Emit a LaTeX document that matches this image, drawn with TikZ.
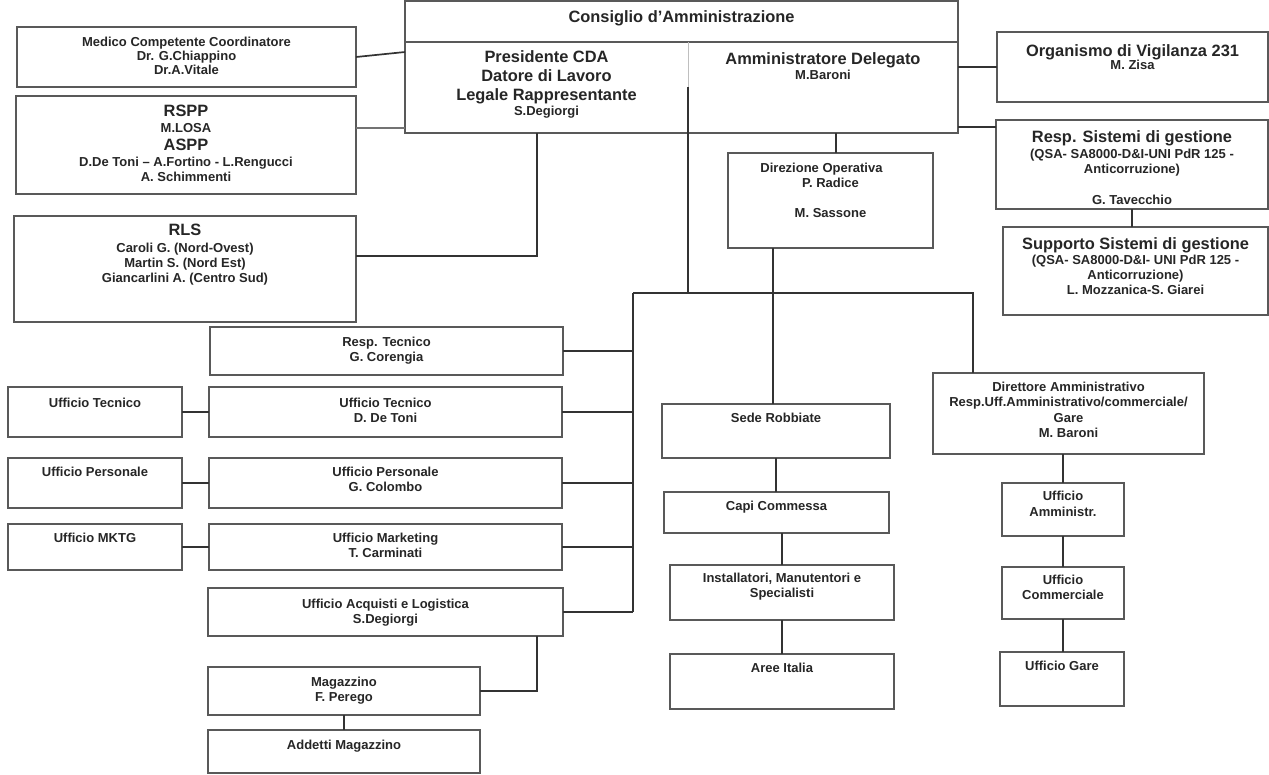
\documentclass[tikz,border=0pt]{standalone}
\usepackage{fontspec}
\setmainfont{Liberation Sans}
\newcommand{\bx}[4]{\parbox[c][#2pt][t]{#1pt}{\centering\vspace*{#3pt}#4}}
\newcommand{\bigL}[2]{{\fontsize{16.4}{#1}\selectfont\bfseries #2\par}}
\newcommand{\smL}[2]{{\fontsize{13}{#1}\selectfont\bfseries #2\par}}
\tikzset{
  ob/.style={draw=black!65, line width=1.3pt, inner sep=0pt, outer sep=0pt, anchor=north west},
  nb/.style={inner sep=0pt, outer sep=0pt, anchor=north west},
  cn/.style={draw=black!80, line width=1.7pt},
  obline/.style={draw=black!65, line width=1.3pt},
}
\begin{document}
\begin{tikzpicture}[x=1pt,y=-1pt, every node/.style={text=black!85}]
\useasboundingbox[fill=white] (0,0) rectangle (1269,774);

% --- top centre
\node[ob] (cda) at (405,1) {\bx{553}{41}{9.2}{\bigL{17}{Consiglio d’Amministrazione}}};
\node[nb] (pres) at (405,42) {\bx{283}{91}{8.2}{\bigL{19}{Presidente CDA}\bigL{19}{Datore di Lavoro}\bigL{19}{Legale Rappresentante}\smL{15.6}{S.Degiorgi}}};
\node[nb] (ad) at (688,42) {\bx{270}{91}{10.2}{\bigL{19}{Amministratore Delegato}\smL{15.6}{M.Baroni}}};
\draw[obline] (pres.north west) rectangle (ad.south east);
\draw[black!25, line width=1pt] (pres.north east) -- (pres.south east);

% --- left top
\node[ob] (medico) at (17,27) {\bx{339}{60}{10}{\smL{14}{Medico Competente Coordinatore}\smL{14}{Dr. G.Chiappino}\smL{14.5}{Dr.A.Vitale}}};
\node[ob] (rspp) at (16,96) {\bx{340}{98}{9.2}{\bigL{19}{RSPP}\smL{15.6}{M.LOSA}\bigL{18.4}{ASPP}\smL{15.6}{D.De Toni – A.Fortino - L.Rengucci}\smL{15}{A. Schimmenti}}};
\node[ob] (rls) at (14,216) {\bx{342}{106}{8.2}{\bigL{19}{RLS}\smL{16.6}{Caroli G. (Nord-Ovest)}\smL{15}{Martin S. (Nord Est)}\smL{15}{Giancarlini A. (Centro Sud)}}};

% --- right top
\node[ob] (odv) at (997,32) {\bx{271}{70}{12.2}{\bigL{19}{Organismo di Vigilanza 231}\smL{13.6}{M. Zisa}}};
\node[ob] (rsg) at (996,120) {\bx{272}{89}{10.2}{\bigL{19}{Resp. Sistemi di gestione}\smL{16.6}{(QSA- SA8000-D\&I-UNI PdR 125 -}\smL{15}{Anticorruzione)}\smL{31}{G. Tavecchio}}};
\node[ob] (sup) at (1003,227) {\bx{265}{88}{10.2}{\bigL{19}{Supporto Sistemi di gestione}\smL{15.6}{(QSA- SA8000-D\&I- UNI PdR 125 -}\smL{15}{Anticorruzione)}\smL{15}{L. Mozzanica-S. Giarei}}};

% --- direzione operativa
\node[ob] (dirop) at (728,153) {\bx{205}{95}{10}{\smL{15}{Direzione Operativa\hspace{18pt}\mbox{}}\smL{15}{P. Radice}\smL{30}{M. Sassone}}};

% --- left column
\node[ob] (rt) at (210,327) {\bx{353}{48}{10}{\smL{15}{Resp. Tecnico}\smL{15}{G. Corengia}}};
\node[ob] (ut) at (209,387) {\bx{353}{50}{11}{\smL{15}{Ufficio Tecnico}\smL{15}{D. De Toni}}};
\node[ob] (up) at (209,458) {\bx{353}{50}{9}{\smL{15}{Ufficio Personale}\smL{15}{G. Colombo}}};
\node[ob] (um) at (209,524) {\bx{353}{46}{9}{\smL{15}{Ufficio Marketing}\smL{15}{T. Carminati}}};
\node[ob] (acq) at (208,588) {\bx{355}{48}{11}{\smL{15}{Ufficio Acquisti e Logistica}\smL{15}{S.Degiorgi}}};
\node[ob] (mag) at (208,667) {\bx{272}{48}{10}{\smL{15}{Magazzino}\smL{15}{F. Perego}}};
\node[ob] (addm) at (208,730) {\bx{272}{43}{10}{\smL{15}{Addetti Magazzino}}};
\node[ob] (ut2) at (8,387) {\bx{174}{50}{11}{\smL{15}{Ufficio Tecnico}}};
\node[ob] (up2) at (8,458) {\bx{174}{50}{9}{\smL{15}{Ufficio Personale}}};
\node[ob] (mk2) at (8,524) {\bx{174}{46}{9}{\smL{15}{Ufficio MKTG}}};

% --- middle column
\node[ob] (sede) at (662,404) {\bx{228}{54}{9}{\smL{15}{Sede Robbiate}}};
\node[ob] (capi) at (664,492) {\bx{225}{41}{9}{\smL{15}{Capi Commessa}}};
\node[ob] (inst) at (670,565) {\bx{224}{55}{8}{\smL{15}{Installatori, Manutentori e}\smL{15}{Specialisti}}};
\node[ob] (aree) at (670,654) {\bx{224}{55}{9}{\smL{15}{Aree Italia}}};

% --- right column
\node[ob] (dir) at (933,373) {\bx{271}{81}{9}{\smL{15.5}{Direttore Amministrativo}\smL{15.5}{Resp.Uff.Amministrativo/commerciale/}\smL{15.5}{Gare}\smL{15.5}{M. Baroni}}};
\node[ob] (uam) at (1002,483) {\bx{122}{53}{8}{\smL{16}{Ufficio}\smL{16}{Amministr.}}};
\node[ob] (ucom) at (1002,567) {\bx{122}{52}{8}{\smL{15}{Ufficio}\smL{15}{Commerciale}}};
\node[ob] (ugare) at (1000,652) {\bx{124}{54}{9}{\smL{15}{Ufficio Gare}}};

% --- coordinates for free ends
\coordinate (medin) at (405,52);
\coordinate (prs) at (537,133);
\coordinate (pd) at (688,87);
\coordinate (busL) at (633,293);
\coordinate (busR) at (973,293);
\coordinate (adout) at (836,133);
\coordinate (dso) at (773,248);
\coordinate (rsgin) at (996,127);
\coordinate (acqd) at (537,636);

% --- connectors
\draw[cn] (medico.east) -- (medin);
\draw[cn, draw=black!55] ([yshift=17pt]rspp.east) -- ([yshift=17pt]rspp.east -| pres.west);
\draw[cn] ([yshift=13pt]rls.east) -| (prs);
\draw[cn] (pd) -- (pd |- busL);
\draw[cn] (busL) -- (busR) -- (busR |- dir.north);
\draw[cn] (busL) -- (busL |- acq.east);
\draw[cn] (rt.east) -- (rt.east -| busL);
\draw[cn] (ut.east) -- (ut.east -| busL);
\draw[cn] (up.east) -- (up.east -| busL);
\draw[cn] (um.east) -- (um.east -| busL);
\draw[cn] (acq.east) -- (acq.east -| busL);
\draw[cn] (ut2.east) -- (ut.west);
\draw[cn] (up2.east) -- (up.west);
\draw[cn] (mk2.east) -- (um.west);
\draw[cn] (acqd) |- (mag.east);
\draw[cn] (mag.south) -- (addm.north);
\draw[cn] (adout) -- (adout |- dirop.north);
\draw[cn] (dso) -- (dso |- sede.north);
\draw[cn] (sede.south) -- (sede.south |- capi.north);
\draw[cn] (inst.north) -- (inst.north |- capi.south);
\draw[cn] (inst.south) -- (aree.north);
\draw[cn] (odv.west) -- (odv.west -| ad.east);
\draw[cn] (rsgin) -- (rsgin -| ad.east);
\draw[cn] (rsg.south) -- (rsg.south |- sup.north);
\draw[cn] (uam.north) -- (uam.north |- dir.south);
\draw[cn] (uam.south) -- (uam.south |- ucom.north);
\draw[cn] (ucom.south) -- (ucom.south |- ugare.north);
\end{tikzpicture}
\end{document}
